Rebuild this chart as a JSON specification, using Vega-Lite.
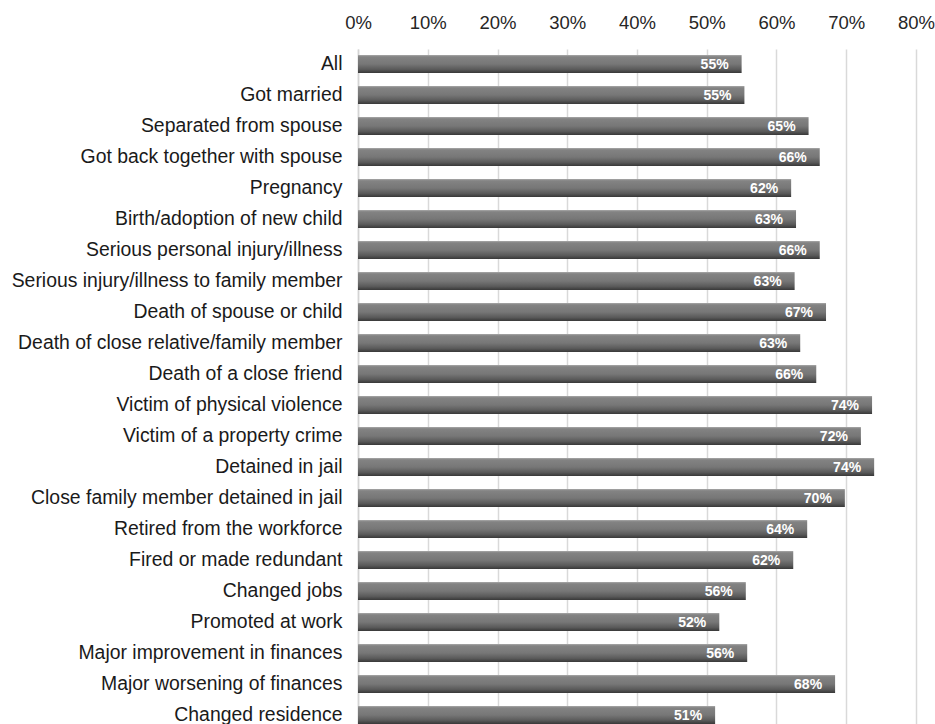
{
  "$schema": "https://vega.github.io/schema/vega-lite/v6.json",
  "autosize": "none",
  "width": 558,
  "height": 675,
  "padding": {"left": 358, "top": 49, "right": 19, "bottom": 0},
  "background": "white",
  "config": {"view": {"stroke": null}, "font": "Liberation Sans"},
  "data": {"values": [
    {"event": "All", "value": 0.550},
    {"event": "Got married", "value": 0.554},
    {"event": "Separated from spouse", "value": 0.646},
    {"event": "Got back together with spouse", "value": 0.662},
    {"event": "Pregnancy", "value": 0.621},
    {"event": "Birth/adoption of new child", "value": 0.628},
    {"event": "Serious personal injury/illness", "value": 0.662},
    {"event": "Serious injury/illness to family member", "value": 0.626},
    {"event": "Death of spouse or child", "value": 0.671},
    {"event": "Death of close relative/family member", "value": 0.634},
    {"event": "Death of a close friend", "value": 0.657},
    {"event": "Victim of physical violence", "value": 0.737},
    {"event": "Victim of a property crime", "value": 0.721},
    {"event": "Detained in jail", "value": 0.740},
    {"event": "Close family member detained in jail", "value": 0.698},
    {"event": "Retired from the workforce", "value": 0.644},
    {"event": "Fired or made redundant", "value": 0.624},
    {"event": "Changed jobs", "value": 0.556},
    {"event": "Promoted at work", "value": 0.518},
    {"event": "Major improvement in finances", "value": 0.558},
    {"event": "Major worsening of finances", "value": 0.684},
    {"event": "Changed residence", "value": 0.512}
  ]},
  "encoding": {
    "y": {
      "field": "event", "type": "nominal", "sort": null,
      "scale": {"paddingInner": 0.42, "paddingOuter": 0.097, "align": 1},
      "axis": {
        "title": null, "ticks": false, "domain": true, "domainColor": "#d4d4d4", "domainWidth": 1.5,
        "labelFontSize": 19.4, "labelColor": "#1a1a1a", "labelPadding": 16, "labelLimit": 400
      }
    },
    "x": {
      "field": "value", "type": "quantitative",
      "scale": {"domain": [0, 0.8], "nice": false},
      "axis": {
        "orient": "top", "title": null, "format": ".0%",
        "values": [0, 0.1, 0.2, 0.3, 0.4, 0.5, 0.6, 0.7, 0.8],
        "grid": true, "gridColor": "#d9d9d9", "gridWidth": 1.5,
        "domain": false, "ticks": false, "tickSize": 0, "labelFlush": false,
        "labelFontSize": 18.5, "labelColor": "#262626", "labelPadding": 17
      }
    }
  },
  "layer": [
    {
      "mark": {
        "type": "bar",
        "color": {
          "gradient": "linear", "x1": 0, "y1": 0, "x2": 0, "y2": 1,
          "stops": [
            {"offset": 0, "color": "#a8a8a8"},
            {"offset": 0.1, "color": "#838383"},
            {"offset": 0.5, "color": "#777777"},
            {"offset": 0.8, "color": "#5a5a5a"},
            {"offset": 1, "color": "#383838"}
          ]
        }
      }
    },
    {
      "mark": {"type": "text", "align": "right", "baseline": "middle", "dx": -13, "dy": 1, "fontWeight": "bold", "fontSize": 14, "color": "white"},
      "encoding": {"text": {"field": "value", "type": "quantitative", "format": ".0%"}}
    }
  ]
}
